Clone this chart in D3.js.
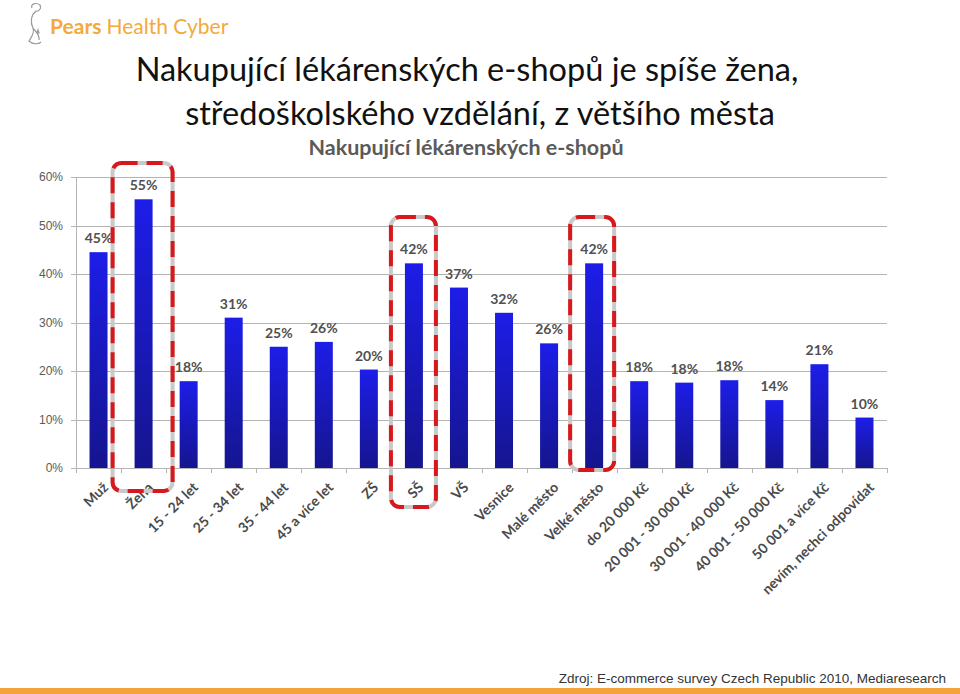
<!DOCTYPE html>
<html>
<head>
<meta charset="utf-8">
<script src="https://cdnjs.cloudflare.com/ajax/libs/d3/7.8.5/d3.min.js"></script>
<style>
  body { margin: 0; background: #fff; }
  svg { display: block; font-family: Lato, "Open Sans", sans-serif; }
  .grid line { stroke: #b4b4b4; shape-rendering: crispEdges; }
  .ylab { font-family: "Liberation Sans", Arial, sans-serif; font-size: 12px; fill: #5a5a5a; }
</style>
</head>
<body>
<div id="chart"></div>
<script>
// data
var categories = ["Muž", "Žena", "15 - 24 let", "25 - 34 let", "35 - 44 let", "45 a více let",
  "ZŠ", "SŠ", "VŠ", "Vesnice", "Malé město", "Velké město",
  "do 20 000 Kč", "20 001 - 30 000 Kč", "30 001 - 40 000 Kč", "40 001 - 50 000 Kč",
  "50 001 a více Kč", "nevím, nechci odpovídat"];
var values = [44.5, 55.4, 17.9, 31, 25, 26, 20.3, 42.2, 37.2, 32, 25.7, 42.2, 17.9, 17.6, 18.1, 14, 21.4, 10.4];
var labels = ["45%", "55%", "18%", "31%", "25%", "26%", "20%", "42%", "37%", "32%", "26%", "42%",
  "18%", "18%", "18%", "14%", "21%", "10%"];
var yTicks = [0, 10, 20, 30, 40, 50, 60];

var W = 960, H = 694;
var svg = d3.select("#chart").append("svg").attr("width", W).attr("height", H);

var x = d3.scaleBand().domain(categories).range([76, 887]);
var y = d3.scaleLinear().domain([0, 60]).range([468, 177]);

var defs = svg.append("defs");
var grad = defs.append("linearGradient").attr("id", "barGrad")
  .attr("x1", 0).attr("y1", 0).attr("x2", 0).attr("y2", 1);
grad.append("stop").attr("offset", "0%").attr("stop-color", "#1d1de8");
grad.append("stop").attr("offset", "100%").attr("stop-color", "#15158f");

// logo
var logo = svg.append("g");
logo.append("path")
  .attr("d", "M32,8 C30,4 36,2 40,5 C42,9 38,12 35,11 M36,11 C31,15 30,22 33,28 C35,33 31,38 29,41 C33,45 39,44 41,42 M33,28 C36,32 40,35 39,40 M38,30 l1,3 l-2,0 z")
  .attr("fill", "none").attr("stroke", "#9a9a9a").attr("stroke-width", 1.2);
logo.append("text").attr("x", 50).attr("y", 34)
  .attr("font-size", 21).attr("fill", "#f2aa3c")
  .call(function(t) {
    t.append("tspan").attr("font-weight", "bold").text("Pears ");
    t.append("tspan").text("Health Cyber");
  });

// titles
svg.append("text").attr("x", 467).attr("y", 81).attr("text-anchor", "middle")
  .attr("font-size", 32.5).attr("fill", "#111")
  .text("Nakupující lékárenských e-shopů je spíše žena,");
svg.append("text").attr("x", 480).attr("y", 125).attr("text-anchor", "middle")
  .attr("font-size", 32.5).attr("fill", "#111")
  .text("středoškolského vzdělání, z většího města");
svg.append("text").attr("x", 466).attr("y", 155).attr("text-anchor", "middle")
  .attr("font-size", 21.5).attr("font-weight", "bold").attr("fill", "#5a5a5a")
  .text("Nakupující lékárenských e-shopů");

// grid + y axis
var grid = svg.append("g").attr("class", "grid");
grid.selectAll("line.g").data(yTicks.slice(1)).enter().append("line")
  .attr("x1", 76).attr("x2", 887)
  .attr("y1", function(d) { return Math.round(y(d)) + 0.5; })
  .attr("y2", function(d) { return Math.round(y(d)) + 0.5; });
grid.selectAll("line.t").data(yTicks).enter().append("line")
  .attr("x1", 71).attr("x2", 76)
  .attr("y1", function(d) { return Math.round(y(d)) + 0.5; })
  .attr("y2", function(d) { return Math.round(y(d)) + 0.5; });
grid.append("line").attr("x1", 76.5).attr("x2", 76.5).attr("y1", y(60)).attr("y2", y(0));
grid.append("line").attr("x1", 76).attr("x2", 887).attr("y1", Math.round(y(0)) + 0.5).attr("y2", Math.round(y(0)) + 0.5);
var bounds = categories.map(function(c) { return x(c); }).concat([x.range()[1]]);
grid.selectAll("line.xt").data(bounds).enter().append("line")
  .attr("x1", function(d) { return Math.round(d) + 0.5; })
  .attr("x2", function(d) { return Math.round(d) + 0.5; })
  .attr("y1", y(0)).attr("y2", y(0) + 5);

svg.selectAll("text.ylab").data(yTicks).enter().append("text")
  .attr("class", "ylab").attr("x", 63).attr("y", function(d) { return y(d) + 4; })
  .attr("text-anchor", "end").text(function(d) { return d + "%"; });

// bars
var bw = 18;
svg.selectAll("rect.bar").data(values).enter().append("rect")
  .attr("class", "bar")
  .attr("x", function(d, i) { return x(categories[i]) + x.bandwidth() / 2 - bw / 2; })
  .attr("y", function(d) { return y(d); })
  .attr("width", bw)
  .attr("height", function(d) { return y(0) - y(d); })
  .attr("fill", "url(#barGrad)");

svg.selectAll("text.val").data(values).enter().append("text")
  .attr("x", function(d, i) { return x(categories[i]) + x.bandwidth() / 2; })
  .attr("y", function(d) { return y(d) - 9; })
  .attr("text-anchor", "middle")
  .attr("font-size", 14).attr("font-weight", "bold").attr("fill", "#505050")
  .text(function(d, i) { return labels[i]; });

// category labels
svg.selectAll("text.cat").data(categories).enter().append("text")
  .attr("transform", function(d) {
    return "translate(" + (x(d) + x.bandwidth() / 2 + 3) + "," + 481 + ") rotate(-45)";
  })
  .attr("dy", "0.75em")
  .attr("text-anchor", "end")
  .attr("font-size", 14).attr("font-weight", "bold").attr("fill", "#4a4a4a")
  .text(function(d) { return d; });

// highlight boxes
var boxes = [
  { cat: "Žena", left: 31, right: 29, top: 163, bottom: 491 },
  { cat: "SŠ", left: 23, right: 22, top: 217, bottom: 507 },
  { cat: "Velké město", left: 24, right: 20, top: 217, bottom: 470 }
];
var hb = svg.append("g");
boxes.forEach(function(b) {
  var cx = x(b.cat) + x.bandwidth() / 2;
  var r = { x: cx - b.left, y: b.top, w: b.left + b.right, h: b.bottom - b.top };
  hb.append("rect").attr("x", r.x).attr("y", r.y).attr("width", r.w).attr("height", r.h)
    .attr("rx", 9).attr("fill", "none").attr("stroke", "#c9c9c9").attr("stroke-width", 4);
  hb.append("rect").attr("x", r.x).attr("y", r.y).attr("width", r.w).attr("height", r.h)
    .attr("rx", 9).attr("fill", "none").attr("stroke", "#d7181c").attr("stroke-width", 4)
    .attr("stroke-dasharray", "16,9");
});

// source + bottom bar
svg.append("text").attr("x", 946).attr("y", 683).attr("text-anchor", "end")
  .attr("font-family", "'Liberation Sans', Arial, sans-serif").attr("font-size", 13.5).attr("fill", "#333")
  .text("Zdroj: E-commerce survey Czech Republic 2010, Mediaresearch");
svg.append("rect").attr("x", 0).attr("y", 688).attr("width", W).attr("height", 6).attr("fill", "#f4a23a");
</script>
</body>
</html>
